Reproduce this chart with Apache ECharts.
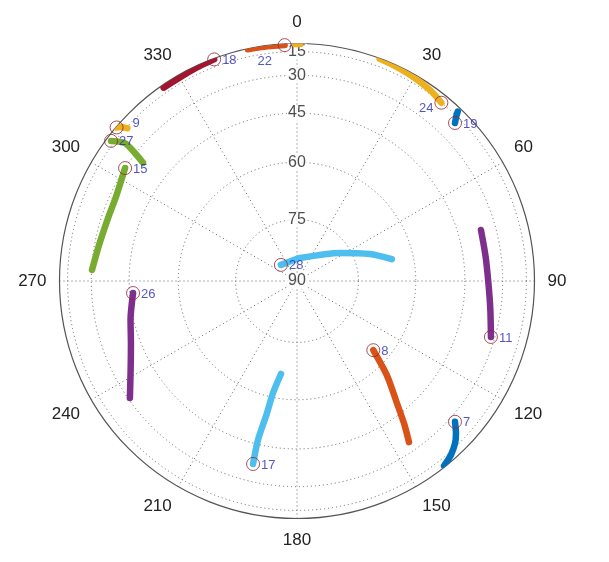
<!DOCTYPE html>
<html>
<head>
<meta charset="utf-8">
<script src="https://cdn.jsdelivr.net/npm/echarts@6/dist/echarts.min.js"></script>
<style>html,body{margin:0;padding:0;background:#fff;}#c{width:609px;height:562px;}</style>
</head>
<body>
<div id="c"></div>
<script>
// Azimuth ticks (deg, clockwise from north) and elevation rings (deg)
const azimuthTicks = [0, 30, 60, 90, 120, 150, 180, 210, 240, 270, 300, 330];
const elevationTicks = [15, 30, 45, 60, 75, 90];

// Satellite PRNs (first point of each track = current position, with marker)
const satPRN = [7, 8, 9, 11, 15, 17, 18, 19, 22, 24, 26, 27, 28];

const az7 = [131.7, 133.8, 135.7, 138.5, 141.5];
const el7 = [27, 22, 17.6, 12, 6];
const az8 = [132.2, 136.5, 140.7, 143.2, 145.2];
const el8 = [64.3, 56.5, 48.4, 41, 34.3];
const az9 = [310.4, 311, 312];
const el9 = [4, 9, 16];
const az11 = [106.1, 98.5, 90.6, 82.4, 74.5];
const el11 = [31.8, 34.6, 36.3, 36.8, 36.5];
const az15 = [303.3, 295.5, 287.8, 280.3, 273.1];
const el15 = [30, 32.7, 33, 32.1, 30.2];
const az17 = [193.5, 193.8, 192.8, 192.1, 189.8];
const el17 = [37.6, 46.4, 55.2, 61.2, 66.6];
const az18 = [339.5, 336, 332.9, 325.4];
const el18 = [5, 6.5, 7.7, 8.5];
const az19 = [45, 44, 43.5];
const el19 = [19.8, 15, 10.5];
const az22 = [357, 352, 348];
const el22 = [6, 5, 4];
const az24 = [39, 34.8, 28.7, 24, 20.4];
const el24 = [15, 11.4, 8, 5.5, 3.5];
const az26 = [265.8, 257, 249, 242, 235];
const el26 = [46.2, 44, 41.5, 37.5, 30.8];
const az27 = [307, 308.7, 308.3, 307.5];
const el27 = [11.4, 21.8, 29.6, 35.2];
const az28 = [315, 340, 7.4, 56.9, 69.7, 77];
const el28 = [84.5, 85, 84.4, 77.5, 70.9, 65.8];
// short unlabeled trace near north
const azN = [359.5, 0.8];
const elN = [4, 4];

const trackAz = [az7, az8, az9, az11, az15, az17, az18, az19, az22, az24, az26, az27, az28];
const trackEl = [el7, el8, el9, el11, el15, el17, el18, el19, el22, el24, el26, el27, el28];

const palette = ['#0072BD', '#D95319', '#EDB120', '#7E2F8E', '#77AC30', '#4DBEEE', '#A2142F'];
const labelPos = {22: {position: 'bottom', offset: [-20, 2]}, 24: {position: 'left', offset: [0, 6]}, 9: {position: 'right', offset: [8, -4]}};

const proj = el => Math.cos(el * Math.PI / 180);
const toPts = (az, el) => az.map((a, i) => [proj(el[i]), a]);

const series = [];
// elevation tick labels
series.push({
  type: 'scatter', coordinateSystem: 'polar', symbolSize: 0, z: 2, silent: true,
  data: elevationTicks.map(e => [proj(e), 0, e]),
  label: {show: true, position: 'inside', formatter: p => p.data[2], fontSize: 16,
    fontFamily: 'Liberation Sans', color: '#222', backgroundColor: '#fff', padding: [0, 1]}
});
satPRN.forEach((prn, i) => {
  series.push({
    type: 'line', coordinateSystem: 'polar', z: 3, symbol: 'none', smooth: 0.25,
    data: toPts(trackAz[i], trackEl[i]),
    lineStyle: {color: palette[i % 7], width: 6.5, cap: 'round', join: 'round'}
  });
});
series.push({
  type: 'line', coordinateSystem: 'polar', z: 3, symbol: 'none',
  data: toPts(azN, elN),
  lineStyle: {color: '#EDB120', width: 6.5, cap: 'round'}
});
series.push({
  type: 'scatter', coordinateSystem: 'polar', z: 5, symbol: 'circle', symbolSize: 13,
  data: satPRN.map((prn, i) => {
    const lp = labelPos[prn] || {position: 'right', offset: [0, 1]};
    return {value: [proj(trackEl[i][0]), trackAz[i][0]], name: String(prn),
      label: {position: lp.position, offset: lp.offset}};
  }),
  itemStyle: {color: 'rgba(0,0,0,0)', borderColor: '#8E2636', borderWidth: 1},
  label: {show: true, formatter: p => p.name, fontSize: 13, fontFamily: 'Liberation Sans',
    color: '#2A2AB4', distance: 1}
});

const chart = echarts.init(document.getElementById('c'), null, {renderer: 'canvas'});
chart.setOption({
  animation: false,
  backgroundColor: '#fff',
  polar: {center: [297, 281], radius: 237.5},
  angleAxis: {
    type: 'value', min: 0, max: 360, interval: 30, startAngle: 90, clockwise: true,
    axisLine: {lineStyle: {color: '#555', width: 1.2}},
    axisTick: {show: false},
    axisLabel: {margin: 13, fontSize: 17, fontFamily: 'Liberation Sans', color: '#222',
      formatter: v => (azimuthTicks.indexOf(v) >= 0 ? String(v) : '')},
    splitLine: {lineStyle: {color: '#666', type: [1, 3], width: 1}}
  },
  radiusAxis: {
    type: 'value', min: 0, max: 1,
    axisLine: {show: false},
    axisTick: {show: false, customValues: elevationTicks.map(proj)},
    axisLabel: {show: false},
    splitLine: {show: true, lineStyle: {color: '#666', type: [1, 3], width: 1}}
  },
  series: series
});
</script>
</body>
</html>
